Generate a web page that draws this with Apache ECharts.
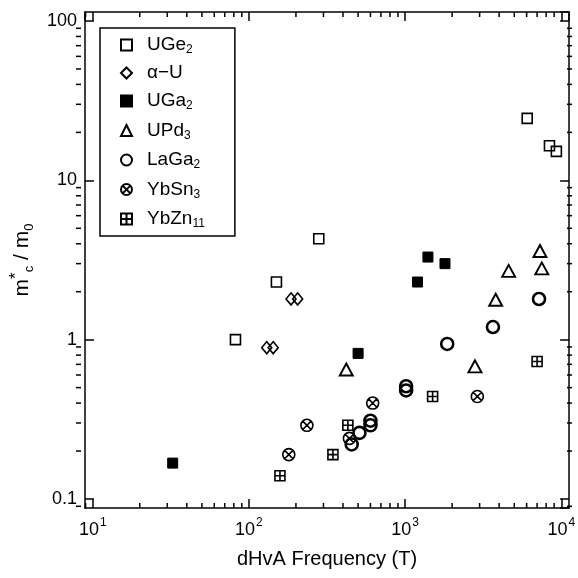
<!DOCTYPE html>
<html><head><meta charset="utf-8">
<script src="https://cdn.jsdelivr.net/npm/echarts@6/dist/echarts.min.js"></script>
<style>html,body{margin:0;padding:0;background:#fff}#c{width:578px;height:578px}</style>
</head><body><div id="c"></div>
<script>
// ---- data (frequency in T, m*c/m0) ----
const xDecades = [1, 2, 3, 4];            // tick labels 10^1 .. 10^4
const yTickLabels = ['0.1', '1', '10', '100'];
const yTickValues = [0.1, 1, 10, 100];
const seriesNames = ['UGe2', 'α-U', 'UGa2', 'UPd3', 'LaGa2', 'YbSn3', 'YbZn11'];
const UGe2 = [[82, 1.0], [150, 2.3], [280, 4.3], [6050, 24.5], [8400, 16.5], [9300, 15.2]];
const alphaU = [[130, 0.89], [143, 0.89], [186, 1.8], [205, 1.8]];
const UGa2 = [[32.5, 0.168], [500, 0.82], [1200, 2.3], [1400, 3.3], [1800, 3.0]];
const UPd3 = [[420, 0.65], [2800, 0.68], [3800, 1.78], [4600, 2.7], [7300, 3.6], [7500, 2.8]];
const LaGa2 = [[455, 0.22], [510, 0.26], [600, 0.31], [600, 0.29], [1015, 0.51], [1015, 0.48], [1860, 0.94], [3650, 1.2], [7200, 1.8]];
const YbSn3 = [[180, 0.19], [235, 0.29], [440, 0.24], [620, 0.40], [2900, 0.44]];
const YbZn11 = [[158, 0.14], [345, 0.19], [430, 0.29], [1500, 0.44], [7000, 0.73]];

const legendRich = {
  'UGe2': '{g|}{b|UGe}{s|2}',
  'α-U': '{g|}{b|α−U}',
  'UGa2': '{g|}{b|UGa}{s|2}',
  'UPd3': '{g|}{b|UPd}{s|3}',
  'LaGa2': '{g|}{b|LaGa}{s|2}',
  'YbSn3': '{g|}{b|YbSn}{s|3}',
  'YbZn11': '{g|}{b|YbZn}{s|11}'
};

const FONT = '"Liberation Sans", Arial, Helvetica, sans-serif';
const circleX = 'path://M0,10 A10,10 0 1,1 20,10 A10,10 0 1,1 0,10 Z M3,3 L17,17 M17,3 L3,17';
const squarePlus = 'path://M0,0 L20,0 L20,20 L0,20 Z M10,0 L10,20 M0,10 L20,10';

const X0 = Math.pow(10, 0.95), X1 = Math.pow(10, 4.05);
const Y0 = Math.pow(10, -1.0565), Y1 = Math.pow(10, 2.0565);

function isDecade(v) { const e = Math.log10(v); return Math.abs(e - Math.round(e)) < 1e-6; }

const chart = echarts.init(document.getElementById('c'), null, {renderer: 'canvas'});

const lineS = {color: '#000', width: 1.5};
function xAx(pos, labels) {
  return {
    type: 'log', logBase: 10, min: X0, max: X1, position: pos,
    axisLine: {show: true, onZero: false, lineStyle: lineS},
    axisTick: {show: true, inside: true, length: 9, lineStyle: lineS},
    minorTick: {show: false}, splitLine: {show: false},
    axisLabel: {
      show: labels, margin: 9, showMinLabel: false, showMaxLabel: false,
      formatter: v => isDecade(v) && xDecades.indexOf(Math.round(Math.log10(v))) >= 0 ? '{b|10}{p|' + Math.round(Math.log10(v)) + '}' : '',
      rich: {
        b: {fontFamily: FONT, fontSize: 18, color: '#000', lineHeight: 22, verticalAlign: 'bottom'},
        p: {fontFamily: FONT, fontSize: 12, color: '#000', lineHeight: 22, verticalAlign: 'top', padding: [0, 0, 10, 1]}
      }
    },
    name: labels ? 'dHvA Frequency (T)' : '', nameLocation: 'middle', nameGap: 41,
    nameTextStyle: {fontFamily: FONT, fontSize: 20, color: '#000'}
  };
}
function yAx(pos, labels) {
  return {
    type: 'log', logBase: 10, min: Y0, max: Y1, position: pos,
    axisLine: {show: true, onZero: false, lineStyle: lineS},
    axisTick: {show: true, inside: true, length: 9, lineStyle: lineS},
    minorTick: {show: false}, splitLine: {show: false},
    axisLabel: {
      show: labels, margin: 8, showMinLabel: false, showMaxLabel: false,
      fontFamily: FONT, fontSize: 18, color: '#000',
      formatter: v => {
        for (let i = 0; i < yTickValues.length; i++) if (Math.abs(Math.log10(v) - Math.log10(yTickValues[i])) < 1e-6) return yTickLabels[i];
        return '';
      }
    },
    name: labels ? '{m|m}{p|*}{s|c}{m| / m}{s|0}' : '', nameLocation: 'middle', nameRotate: 90, nameGap: 44,
    nameTextStyle: {
      rich: {
        m: {fontFamily: FONT, fontSize: 21, color: '#000', lineHeight: 28, verticalAlign: 'middle'},
        p: {fontFamily: FONT, fontSize: 17, color: '#000', lineHeight: 28, verticalAlign: 'top', padding: [0, 0, 8, 0]},
        s: {fontFamily: FONT, fontSize: 13, color: '#000', lineHeight: 14, verticalAlign: 'bottom', padding: [14, 0, 0, 0]}
      }
    }
  };
}

const open = {color: 'rgba(0,0,0,0)', borderColor: '#000', borderWidth: 1.6, opacity: 1};
function ser(name, data, symbol, size, style) {
  return {name, type: 'scatter', data, symbol, symbolSize: size, itemStyle: style, emphasis: {disabled: true}, z: 5};
}

chart.setOption({
  animation: false,
  backgroundColor: '#fff',
  grid: {left: 76, right: 6, top: 12, bottom: 70, containLabel: false},
  xAxis: [xAx('bottom', true), xAx('top', false)],
  yAxis: [yAx('left', true), yAx('right', false)],
  legend: {
    orient: 'vertical', left: 100, top: 28,
    padding: [6, 30, 6, 20], itemGap: 7.5, itemWidth: 11, itemHeight: 11,
    borderColor: '#000', borderWidth: 1.5, backgroundColor: '#fff',
    data: seriesNames,
    formatter: n => legendRich[n],
    textStyle: {
      rich: {
        g: {width: 10},
        b: {fontFamily: FONT, fontSize: 19, color: '#000', lineHeight: 22, verticalAlign: 'middle'},
        s: {fontFamily: FONT, fontSize: 12, color: '#000', lineHeight: 12, verticalAlign: 'bottom', padding: [10, 0, 0, 0]}
      }
    }
  },
  series: [
    ser('UGe2', UGe2, 'rect', 10, open),
    ser('α-U', alphaU, 'diamond', [10, 12], open),
    ser('UGa2', UGa2, 'rect', 10, {color: '#000', borderColor: '#000', borderWidth: 1, opacity: 1}),
    ser('UPd3', UPd3, 'triangle', [13, 12], {color: 'rgba(0,0,0,0)', borderColor: '#000', borderWidth: 1.9, opacity: 1}),
    ser('LaGa2', LaGa2, 'circle', 12, {color: 'rgba(0,0,0,0)', borderColor: '#000', borderWidth: 2.6, opacity: 1}),
    ser('YbSn3', YbSn3, circleX, 12, open),
    ser('YbZn11', YbZn11, squarePlus, 10, open)
  ]
});

// minor ticks (2..9 x 10^k) drawn through the axis scales
const gfx = [];
const L = 76, R = 572, T = 12, B = 508, ML = 5;
for (let d = 0; d <= 4; d++) {
  for (let k = 2; k <= 9; k++) {
    const v = k * Math.pow(10, d);
    if (v > X0 && v < X1) {
      const px = chart.convertToPixel({xAxisIndex: 0}, v);
      gfx.push({type: 'line', shape: {x1: px, y1: B, x2: px, y2: B - ML}, style: {stroke: '#000', lineWidth: 1.5}, silent: true});
      gfx.push({type: 'line', shape: {x1: px, y1: T, x2: px, y2: T + ML}, style: {stroke: '#000', lineWidth: 1.5}, silent: true});
    }
  }
}
for (let d = -2; d <= 2; d++) {
  for (let k = 2; k <= 9; k++) {
    const v = k * Math.pow(10, d);
    if (v > Y0 && v < Y1) {
      const py = chart.convertToPixel({yAxisIndex: 0}, v);
      gfx.push({type: 'line', shape: {x1: L, y1: py, x2: L + ML, y2: py}, style: {stroke: '#000', lineWidth: 1.5}, silent: true});
      gfx.push({type: 'line', shape: {x1: R, y1: py, x2: R - ML, y2: py}, style: {stroke: '#000', lineWidth: 1.5}, silent: true});
    }
  }
}
chart.setOption({graphic: gfx});
</script>
</body></html>
